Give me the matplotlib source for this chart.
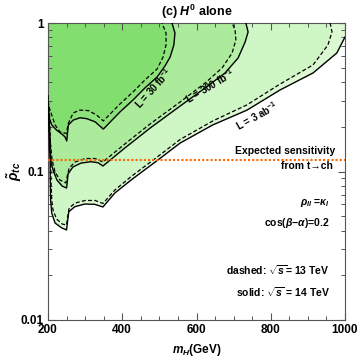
import matplotlib
matplotlib.use('Agg')
import matplotlib.pyplot as plt
from matplotlib.ticker import FixedLocator, MultipleLocator, NullFormatter

plt.rcParams['font.family'] = ['Liberation Sans', 'DejaVu Sans']
plt.rcParams['font.weight'] = 'bold'
plt.rcParams['mathtext.fontset'] = 'custom'
plt.rcParams['mathtext.rm'] = 'Liberation Sans:bold'
plt.rcParams['mathtext.it'] = 'Liberation Sans:italic:bold'
plt.rcParams['mathtext.bf'] = 'Liberation Sans:bold'

# ---------------- data ----------------
# L = 30 fb^-1
m_30_14 = [200, 201, 203.5, 210, 223, 237, 246, 250.5, 252, 255, 268, 286, 304, 327, 349,
           394, 429, 461, 494, 515, 529, 539, 542, 534]
rho_30_14 = [0.268, 0.259, 0.229, 0.206, 0.190, 0.179, 0.1707, 0.1605, 0.176, 0.206, 0.222, 0.230,
             0.227, 0.216, 0.193, 0.252, 0.303, 0.365, 0.433, 0.513, 0.590, 0.711, 0.856, 1.0]
m_30_13 = [200, 201, 210, 219, 232, 246, 250, 252, 255, 268, 286, 309, 331, 349,
           394, 429, 461, 494, 510, 518, 518, 507]
rho_30_13 = [0.30, 0.281, 0.240, 0.206, 0.185, 0.181, 0.181, 0.195, 0.212, 0.248, 0.259, 0.257,
             0.240, 0.219, 0.285, 0.343, 0.413, 0.490, 0.590, 0.711, 0.856, 1.0]
# L = 300 fb^-1
m_300_14 = [200, 203, 204, 207, 213.5, 224, 238, 250, 252.5, 254, 267, 289, 316, 335, 348,
            407, 475, 556, 623, 677, 712, 731, 739, 733]
rho_300_14 = [0.229, 0.182, 0.140, 0.1195, 0.1023, 0.0877, 0.0798, 0.0774, 0.0877, 0.0962,
              0.1072, 0.114, 0.1164, 0.1145, 0.1089, 0.144, 0.196, 0.276, 0.365, 0.461,
              0.581, 0.745, 0.870, 1.0]
m_300_13 = [200, 204, 207, 211, 219, 232, 248, 252.5, 257, 273, 300, 327, 348,
            407, 475, 556, 623, 669, 696, 706, 704, 696]
rho_300_13 = [0.252, 0.190, 0.151, 0.1195, 0.0992, 0.0877, 0.0837, 0.0947, 0.1056, 0.1159,
              0.1223, 0.1223, 0.1159, 0.1532, 0.209, 0.294, 0.394, 0.498, 0.628, 0.768,
              0.897, 1.0]
# L = 3 ab^-1
m_3000_14 = [200, 203.5, 205.4, 206, 207, 210, 219, 237, 250, 252.5, 256, 272, 299, 326, 348,
             380, 424, 496, 556, 644, 736, 825, 914, 978, 1000]
rho_3000_14 = [0.303, 0.206, 0.1396, 0.0877, 0.0643, 0.0525, 0.045, 0.0417, 0.0404, 0.0457,
               0.0536, 0.0579, 0.0604, 0.0601, 0.0577, 0.0716, 0.0877, 0.1195, 0.1555,
               0.206, 0.259, 0.354, 0.461, 0.628, 0.805]
m_3000_13 = [200, 205, 207, 208, 210, 213.5, 223, 238, 250, 252.5, 257, 273, 300, 327, 348,
             380, 424, 496, 556, 644, 736, 825, 914, 954, 965, 960]
rho_3000_13 = [0.327, 0.222, 0.1396, 0.0877, 0.0643, 0.055, 0.0479, 0.0443, 0.0436, 0.0486,
               0.0568, 0.0613, 0.0638, 0.0638, 0.0609, 0.0750, 0.0925, 0.1262, 0.1643,
               0.219, 0.281, 0.388, 0.522, 0.711, 0.870, 1.0]

sensitivity = 0.12
x_ticks = [200, 400, 600, 800, 1000]
y_ticks = [0.01, 0.1, 1]
y_tick_labels = ['0.01', '0.1', '1']

# ---------------- figure ----------------
fig = plt.figure(figsize=(3.60, 3.61), dpi=100)
ax = fig.add_axes([48/360, 1-320/361, 297/360, 297/361])
ax.set_yscale('log')
ax.set_xlim(200, 1000)
ax.set_ylim(0.01, 1)

curves = [
    (m_3000_14, rho_3000_14, '#dcf9d4', '-'),
    (m_3000_13, rho_3000_13, '#cff6c5', '--'),
    (m_300_14, rho_300_14, '#b6efa8', '-'),
    (m_300_13, rho_300_13, '#abeb9b', '--'),
    (m_30_14, rho_30_14, '#8ee27b', '-'),
    (m_30_13, rho_30_13, '#82de6e', '--'),
]
for mx, ry, col, ls in curves:
    px = list(mx) + [mx[-1], 200]
    py = list(ry) + [1.0, 1.0]
    ax.fill(px, py, color=col, lw=0, zorder=1)
for mx, ry, col, ls in curves:
    if ls == '-':
        ax.plot(mx, ry, color='black', lw=1.0, zorder=3)
    else:
        ax.plot(mx, ry, color='black', lw=0.9, dashes=(3.2, 1.8), zorder=3)

ax.axhline(sensitivity, color='#ff6a00', lw=1.5, ls=(0, (1, 1)), zorder=4)

# ticks
ax.xaxis.set_major_locator(FixedLocator(x_ticks))
ax.xaxis.set_minor_locator(MultipleLocator(50))
ax.yaxis.set_major_locator(FixedLocator(y_ticks))
ax.set_yticklabels(y_tick_labels)
ax.yaxis.set_minor_formatter(NullFormatter())
ax.tick_params(which='both', direction='in', top=True, right=True, labelsize=8.5,
               color='#555555', pad=3)
ax.tick_params(which='major', length=5, width=0.8)
ax.tick_params(which='minor', length=3, width=0.7)
for lab in ax.get_xticklabels() + ax.get_yticklabels():
    lab.set_fontweight('bold')
for s in ax.spines.values():
    s.set_color('#555555')
    s.set_linewidth(0.8)

ax.set_xlabel(r'$m_H$(GeV)', fontsize=8.5, fontweight='bold', labelpad=4)
ax.set_ylabel(r'$\tilde{\rho}_{tc}$', fontsize=10)
ax.yaxis.set_label_coords(-0.082, 0.50)
ax.set_title(r'(c) $H^0$ alone', fontsize=9, fontweight='bold', pad=5)

# annotations
kw = dict(transform=ax.transAxes, fontsize=7.5, fontweight='bold', ha='right', va='center', zorder=5)
ax.text(0.966, 0.569, 'Expected sensitivity', **kw)
ax.text(0.960, 0.519, 'from t→ch', **kw)
ax.text(0.949, 0.394, r'$\rho_{ll}$ =$\kappa_l$', **kw)
ax.text(0.949, 0.327, r'cos($\beta$−$\alpha$)=0.2', **kw)
ax.text(0.949, 0.168, r'dashed: $\sqrt{s}$= 13 TeV', **kw)
ax.text(0.949, 0.094, r'solid: $\sqrt{s}$ = 14 TeV', **kw)

lk = dict(transform=ax.transAxes, fontsize=7, fontweight='bold', ha='center', va='center', zorder=5)
ax.text(0.354, 0.780, r'L = 30 fb$^{-1}$', rotation=48, **lk)
ax.text(0.545, 0.788, r'L = 300 fb$^{-1}$', rotation=31, **lk)
ax.text(0.704, 0.687, r'L = 3 ab$^{-1}$', rotation=29, **lk)

fig.savefig('out.png', dpi=100)
